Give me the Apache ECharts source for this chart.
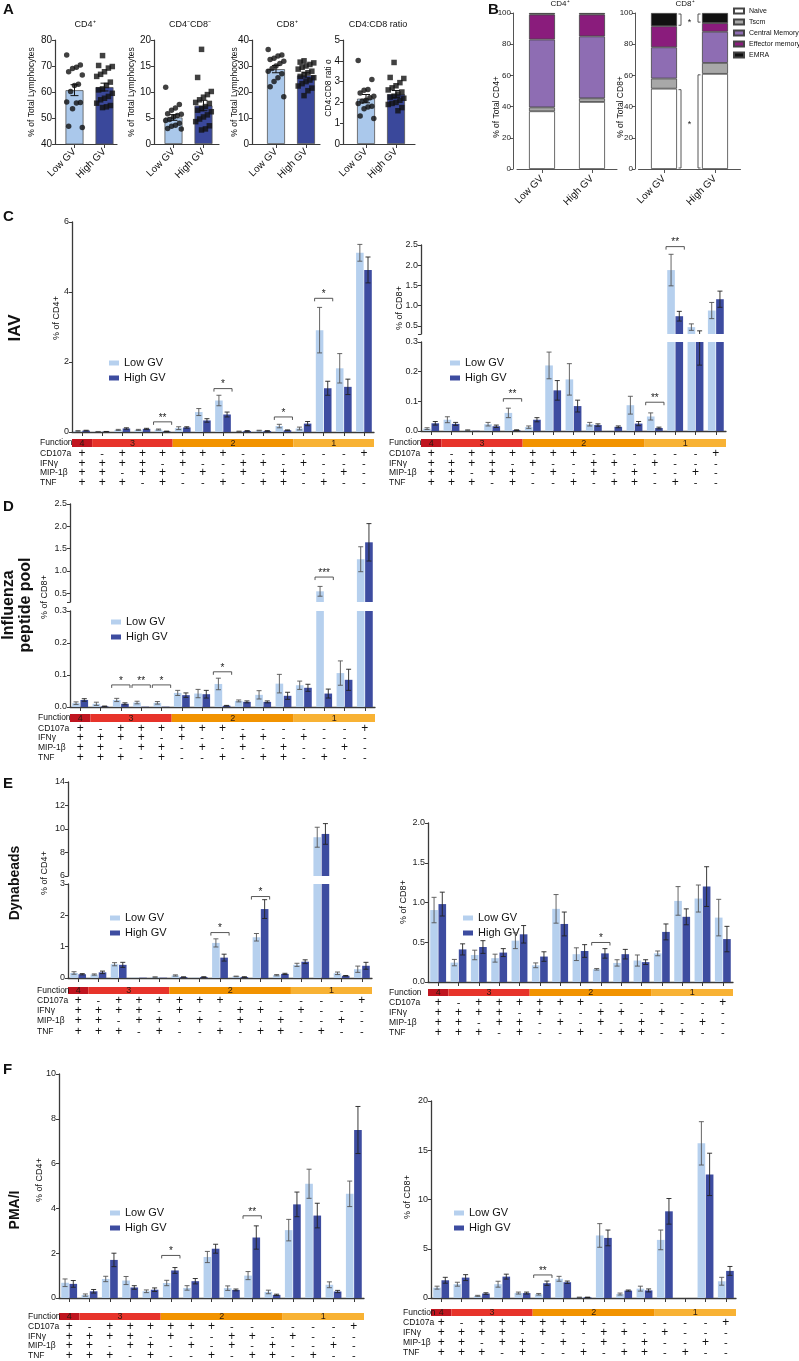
<!DOCTYPE html>
<html><head><meta charset="utf-8">
<script src="https://cdn.jsdelivr.net/npm/echarts@6/dist/echarts.min.js"></script>
<style>html,body{margin:0;padding:0;background:#fff}#c{width:799px;height:1361px}</style>
</head><body><div id="c"></div><script>
// ---------- shared categories ----------
const aGroups = ['Low GV','High GV'];
const cats = ['1','2','3','4','5','6','7','8','9','10','11','12','13','14','15'];
const CD107a = ['+','-','+','+','+','+','+','+','-','-','-','-','-','-','+'];
const IFNg   = ['+','+','+','+','-','+','-','-','+','+','-','+','-','-','-'];
const MIP1b  = ['+','+','-','+','+','-','+','-','+','-','+','-','-','+','-'];
const TNF    = ['+','+','+','-','+','-','-','+','-','+','+','-','+','-','-'];
const rowNames = ['CD107a','IFNγ','MIP-1β','TNF'];
const funcGroups = [{n:'4',from:0,to:0},{n:'3',from:1,to:4},{n:'2',from:5,to:10},{n:'1',from:11,to:14}];

// ---------- Panel A ----------
const aCD4_bar = [60.7, 61.9], aCD4_sem = [2.1, 1.5];
const aCD4_lowPts  = [74.2,70.4,69.5,69.0,67.8,66.5,63.0,62.5,60.2,56.2,56.0,55.8,53.6,46.8,46.3];
const aCD4_highPts = [74.0,70.2,69.8,69.2,67.8,66.8,66.0,63.8,62.5,61.2,60.8,59.5,58.3,57.6,57.0,55.7,54.8,54.3,54.0];
const aDN_bar = [5.1, 7.4], aDN_sem = [0.55, 1.0];
const aDN_lowPts  = [10.9,7.6,6.9,6.5,5.8,5.7,5.5,5.2,4.7,4.5,4.0,3.6,3.4,3.0,2.9];
const aDN_highPts = [18.2,12.8,10.1,9.5,9.0,8.5,8.0,7.8,7.2,6.8,6.5,6.2,5.6,5.2,4.8,4.3,3.5,2.9,2.7];
const aCD8_bar = [28.8, 26.4], aCD8_sem = [1.4, 1.0];
const aCD8_lowPts  = [36.3,34.2,33.8,33.0,32.5,31.8,31.0,30.0,29.0,28.0,27.0,25.5,24.0,22.0,18.2];
const aCD8_highPts = [32.0,31.5,31.2,30.6,30.0,29.5,28.8,28.0,27.4,26.8,26.0,25.5,24.6,24.0,23.2,22.3,21.5,20.5,18.6];
const aRatio_bar = [2.18, 2.4], aRatio_sem = [0.2, 0.17];
const aRatio_lowPts  = [4.02,3.1,2.62,2.58,2.45,2.3,2.22,2.1,2.05,1.95,1.82,1.78,1.7,1.35,1.23];
const aRatio_highPts = [3.92,3.2,3.15,2.95,2.8,2.7,2.6,2.5,2.4,2.3,2.25,2.2,2.1,2.0,1.95,1.9,1.75,1.6];

// ---------- Panel B ----------
const bSubsets = ['Naive','Tscm','Central Memory','Effector memory','EMRA'];
const bCD4_low  = [37, 2.5, 43.5, 16, 1];
const bCD4_high = [43, 2.3, 39.7, 14, 1];
const bCD8_low  = [51.5, 6.5, 20, 13.5, 8.5];
const bCD8_high = [61, 7, 20, 5.5, 6.5];
const bCD8_sig = [{seg:4,label:'*'},{seg:0,label:'*'}];

// ---------- Panel C (IAV) ----------
const cCD4_low     = [0.03,0.01,0.06,0.06,0.07,0.11,0.57,0.90,0.02,0.04,0.17,0.10,2.91,1.82,5.12];
const cCD4_lowErr  = [0.01,0.005,0.015,0.015,0.015,0.04,0.10,0.15,0.005,0.01,0.05,0.04,0.65,0.42,0.24];
const cCD4_high    = [0.04,0.01,0.10,0.09,0.02,0.13,0.33,0.50,0.03,0.03,0.05,0.24,1.25,1.29,4.63];
const cCD4_highErr = [0.01,0.005,0.02,0.015,0.005,0.02,0.05,0.07,0.01,0.01,0.01,0.06,0.20,0.22,0.37];
const cCD4_sig = [[4,0.29,'**'],[7,1.24,'*'],[10,0.43,'*'],[12,3.82,'*']];
const cCD8_low     = [0.008,0.038,0.003,0.023,0.061,0.013,0.221,0.174,0.023,0.001,0.087,0.049,1.88,0.47,0.88];
const cCD8_lowErr  = [0.003,0.01,0.001,0.006,0.016,0.004,0.045,0.053,0.006,0,0.03,0.012,0.39,0.08,0.2];
const cCD8_high    = [0.026,0.024,0.001,0.016,0.003,0.038,0.137,0.084,0.02,0.014,0.025,0.01,0.74,0.30,1.16];
const cCD8_highErr = [0.006,0.005,0,0.004,0.001,0.007,0.033,0.02,0.004,0.003,0.007,0.003,0.12,0.078,0.2];
const cCD8_sig = [[4,0.109,'**'],[11,0.097,'**'],[12,2.46,'**']];

// ---------- Panel D (Influenza peptide pool) ----------
const dCD8_low     = [0.012,0.01,0.022,0.014,0.013,0.044,0.042,0.072,0.019,0.038,0.073,0.068,0.54,0.106,1.26];
const dCD8_lowErr  = [0.004,0.005,0.005,0.004,0.004,0.008,0.013,0.018,0.003,0.013,0.029,0.013,0.11,0.038,0.28];
const dCD8_high    = [0.022,0.002,0.01,0.001,0.001,0.037,0.04,0.004,0.016,0.016,0.035,0.06,0.042,0.085,1.64];
const dCD8_highErr = [0.004,0.001,0.003,0,0,0.007,0.012,0.001,0.003,0.003,0.011,0.011,0.014,0.033,0.42];
const dCD8_sig = [[2,0.069,'*'],[3,0.069,'**'],[4,0.069,'*'],[7,0.11,'*'],[12,0.86,'***']];

// ---------- Panel E (Dynabeads) ----------
const eCD4_low     = [0.16,0.11,0.44,0.01,0.03,0.08,0.01,1.12,0.05,1.30,0.09,0.42,9.3,0.15,0.28];
const eCD4_lowErr  = [0.04,0.02,0.05,0,0.005,0.02,0,0.13,0.01,0.12,0.02,0.05,0.85,0.04,0.1];
const eCD4_high    = [0.12,0.18,0.42,0.01,0.01,0.03,0.03,0.65,0.03,2.2,0.13,0.52,9.58,0.07,0.39];
const eCD4_highErr = [0.02,0.04,0.08,0,0,0.005,0.01,0.11,0.01,0.3,0.02,0.06,0.88,0.01,0.11];
const eCD4_sig = [[7,1.45,'*'],[9,2.6,'*']];
const eCD8_low     = [0.905,0.244,0.34,0.30,0.52,0.21,0.92,0.35,0.16,0.24,0.27,0.36,1.02,1.05,0.81];
const eCD8_lowErr  = [0.16,0.04,0.06,0.05,0.1,0.03,0.18,0.08,0.01,0.04,0.07,0.03,0.18,0.17,0.23];
const eCD8_high    = [0.98,0.41,0.44,0.37,0.60,0.32,0.73,0.39,0.36,0.35,0.25,0.63,0.82,1.2,0.54];
const eCD8_highErr = [0.15,0.07,0.08,0.05,0.11,0.06,0.15,0.08,0.06,0.06,0.03,0.1,0.1,0.25,0.16];
const eCD8_sig = [[8,0.497,'*']];

// ---------- Panel F (PMA/I) ----------
const fCD4_low     = [0.68,0.13,0.85,0.78,0.30,0.67,0.45,1.83,0.44,1.0,0.27,3.03,5.1,0.59,4.65];
const fCD4_lowErr  = [0.17,0.05,0.12,0.18,0.06,0.12,0.1,0.25,0.1,0.18,0.08,0.48,0.65,0.13,0.57];
const fCD4_high    = [0.63,0.3,1.7,0.47,0.37,1.23,0.75,2.2,0.36,2.7,0.14,4.18,3.68,0.29,7.5];
const fCD4_highErr = [0.15,0.08,0.3,0.08,0.08,0.13,0.12,0.2,0.04,0.52,0.03,0.55,0.55,0.05,1.05];
const fCD4_sig = [[5,1.9,'*'],[9,3.67,'**']];
const fCD8_low     = [1.05,1.4,0.22,1.4,0.5,0.38,1.95,0.07,6.35,0.4,0.95,5.9,0,15.7,1.7];
const fCD8_lowErr  = [0.15,0.2,0.05,0.3,0.1,0.08,0.25,0.02,1.2,0.1,0.25,1.0,0,2.2,0.4];
const fCD8_high    = [1.8,2.07,0.45,2.17,0.5,1.5,1.6,0.07,6.1,0.75,0.77,8.8,0,12.55,2.75];
const fCD8_highErr = [0.3,0.3,0.08,0.25,0.1,0.22,0.12,0.02,0.8,0.06,0.15,1.3,0,2.15,0.45];
const fCD8_sig = [[5,2.34,'**']];

// ---------- styling ----------
const FONT = '"Liberation Sans", Arial, Helvetica, sans-serif';
const AX = '#3a3a3a';
const LOW = '#b6d0ee', HIGH = '#3d4ca0';
const A_LOW = '#aac8eb', A_HIGH = '#3a489b';
const FUNC_COLORS = {'4':'#c0151f','3':'#e7332a','2':'#f29300','1':'#f8b234'};
const B_COLORS = ['#ffffff','#a8a8a8','#8e6db3','#8a1c7c','#111111'];
const CG = 0.22, BG = 0.08;

const option = {animation:false, textStyle:{fontFamily:FONT}, grid:[], xAxis:[], yAxis:[], series:[], legend:[], graphic:[]};
function txt(text, x, y, o) {
  o = o || {};
  option.graphic.push({type:'text', x:x, y:y, rotation:o.rot||0, silent:true, z:10,
    style:{text:text, fontSize:o.size||9, fontFamily:FONT, fontWeight:o.bold?'bold':'normal', fill:o.color||'#111',
      align:o.align||'left', verticalAlign:o.va||'middle', lineHeight:o.lh||undefined}});
}
const fmt = dec => (v => dec ? Number(v).toFixed(dec) : String(v));

// ---------- Panel A builder ----------
function jitter(i){ return (((i*7)%9) - 4) * 0.065; }
function aPanel(p){
  const gi = option.grid.length;
  option.grid.push({left:p.left, top:40, width:p.width, height:104});
  option.xAxis.push({type:'value', gridIndex:gi, min:p.xmin, max:p.xmax,
    axisLine:{onZero:false, lineStyle:{color:AX, width:1.2}},
    axisTick:{show:true, customValues:[0,1], length:4, lineStyle:{color:AX}},
    axisLabel:{customValues:[0,1], formatter:v=>aGroups[Math.round(v)], rotate:45, fontSize:10, color:'#111', margin:6, fontFamily:FONT},
    splitLine:{show:false}});
  option.yAxis.push({type:'value', gridIndex:gi, min:p.ymin, max:p.ymax, interval:p.interval,
    axisLine:{show:true, onZero:false, lineStyle:{color:AX, width:1.2}},
    axisTick:{show:true, length:3, lineStyle:{color:AX}},
    axisLabel:{fontSize:10, color:'#111', margin:3, fontFamily:FONT}, splitLine:{show:false}});
  option.series.push({type:'bar', name:'A'+gi, xAxisIndex:gi, yAxisIndex:gi, barWidth:18, silent:true,
    data:[{value:[0,p.bar[0]], itemStyle:{color:A_LOW}}, {value:[1,p.bar[1]], itemStyle:{color:A_HIGH}}],
    itemStyle:{borderColor:'#555', borderWidth:0.8}});
  option.series.push({type:'custom', xAxisIndex:gi, yAxisIndex:gi, silent:true, z:4,
    data:[[0,p.bar[0],p.sem[0]],[1,p.bar[1],p.sem[1]]],
    renderItem:function(params, api){
      const c = api.coord([api.value(0), api.value(1)]);
      const t = api.coord([api.value(0), api.value(1)+api.value(2)]);
      const b = api.coord([api.value(0), api.value(1)-api.value(2)]);
      const st = {stroke:'#111', lineWidth:1};
      return {type:'group', children:[
        {type:'line', shape:{x1:c[0],y1:t[1],x2:c[0],y2:b[1]}, style:st},
        {type:'line', shape:{x1:c[0]-4,y1:t[1],x2:c[0]+4,y2:t[1]}, style:st},
        {type:'line', shape:{x1:c[0]-4,y1:b[1],x2:c[0]+4,y2:b[1]}, style:st}]};
    }});
  option.series.push({type:'scatter', xAxisIndex:gi, yAxisIndex:gi, silent:true, z:5, symbol:'circle', symbolSize:5.5,
    itemStyle:{color:'#111'}, data:p.lowPts.map((v,i)=>[jitter(i), v])});
  option.series.push({type:'scatter', xAxisIndex:gi, yAxisIndex:gi, silent:true, z:5, symbol:'rect', symbolSize:5.5,
    itemStyle:{color:'#111'}, data:p.highPts.map((v,i)=>[1+jitter(i+3), v])});
  txt(p.title, p.titleX, 25, {align:'center', size:9});
  txt(p.yName, p.yNameX, p.yNameY||92, {rot:Math.PI/2, align:'center', size:8.5});
}

// ---------- Panel B builder ----------
function bPanel(p){
  const gi = option.grid.length;
  option.grid.push({left:p.left, top:13, width:p.width, height:156});
  option.xAxis.push({type:'category', gridIndex:gi, data:aGroups, boundaryGap:true,
    axisLine:{onZero:false, lineStyle:{color:'#555', width:1}},
    axisTick:{show:true, alignWithLabel:true, length:4, lineStyle:{color:'#555'}},
    axisLabel:{rotate:45, fontSize:10, color:'#111', margin:8, fontFamily:FONT},
    splitLine:{show:false}});
  option.yAxis.push({type:'value', gridIndex:gi, min:0, max:100, interval:20, offset:p.offset,
    axisLine:{show:true, onZero:false, lineStyle:{color:'#555', width:1}},
    axisTick:{show:true, length:3, lineStyle:{color:'#555'}},
    axisLabel:{fontSize:8, color:'#222', margin:2, fontFamily:FONT}, splitLine:{show:false}});
  bSubsets.forEach((name,k)=>option.series.push({type:'bar', name:name, stack:'s'+gi, xAxisIndex:gi, yAxisIndex:gi,
    barWidth:26, silent:true, data:[p.low[k], p.high[k]],
    itemStyle:{color:B_COLORS[k], borderColor:'#444', borderWidth:0.8}}));
  if (p.sig) {
    const range = (arr,k)=>{let s=0; for(let j=0;j<k;j++) s+=arr[j]; return [s, s+arr[k]];};
    option.series.push({type:'custom', xAxisIndex:gi, yAxisIndex:gi, clip:false, silent:true, z:6,
      data:p.sig.map(s=>{const lo=range(p.low,s.seg), hi=range(p.high,s.seg); return [0, lo[0], lo[1], hi[0], hi[1]];}),
      renderItem:function(params, api){
        const x0 = api.coord([0,0])[0], x1 = api.coord([1,0])[0];
        const l0 = api.coord([0, api.value(1)])[1]-1, l1 = api.coord([0, api.value(2)])[1]+1;
        const h0 = api.coord([0, api.value(3)])[1]-1, h1 = api.coord([0, api.value(4)])[1]+1;
        const xl = x0+13+4, xr = x1-13-4;
        const st = {stroke:'#444', fill:null, lineWidth:0.9};
        return {type:'group', children:[
          {type:'polyline', shape:{points:[[xl-2.5,l1],[xl,l1],[xl,l0],[xl-2.5,l0]]}, style:st},
          {type:'polyline', shape:{points:[[xr+2.5,h1],[xr,h1],[xr,h0],[xr+2.5,h0]]}, style:st},
          {type:'text', x:(xl+xr)/2, y:(Math.max(l0,h0)+Math.min(l1,h1))/2+3, style:{text:p.sig[params.dataIndex].label, align:'center', verticalAlign:'middle', fontSize:9, fontFamily:FONT, fill:'#222'}}]};
      }});
  }
  txt(p.title, p.titleX, 4, {align:'center', size:8});
  txt(p.yName, p.yNameX, 107, {rot:Math.PI/2, align:'center', size:8.5});
}

// ---------- C-F builder ----------
function errRender(params, api){
  const e = api.value(2); if (!e) return null;
  const cat = api.value(0), v = api.value(1), slot = api.value(3);
  const band = api.size([1,0])[0];
  const w = band*(1-CG)/(2+BG);
  const off = (w + BG*w)/2 * (slot ? 1 : -1);
  const t = api.coord([cat, v+e]), b = api.coord([cat, Math.max(v-e,0)]);
  const x = t[0] + off, cap = 2.5;
  const st = {stroke:slot ? '#222' : '#555', lineWidth:0.9};
  return {type:'group', children:[
    {type:'line', shape:{x1:x,y1:t[1],x2:x,y2:b[1]}, style:st},
    {type:'line', shape:{x1:x-cap,y1:t[1],x2:x+cap,y2:t[1]}, style:st},
    {type:'line', shape:{x1:x-cap,y1:b[1],x2:x+cap,y2:b[1]}, style:st}]};
}
function barPanel(p){
  const n = p.grids.length;
  p.grids.forEach((g, k)=>{
    const bottom = k === n-1;
    const gi = option.grid.length;
    option.grid.push({left:p.left, top:g.top, width:p.width, height:g.height});
    option.xAxis.push({type:'category', gridIndex:gi, data:cats, boundaryGap:true,
      axisLine:{show:bottom, onZero:false, lineStyle:{color:AX, width:1.3}},
      axisTick:{show:bottom, alignWithLabel:true, length:4, lineStyle:{color:AX, width:1}},
      axisLabel:{show:false}, splitLine:{show:false}});
    option.yAxis.push({type:'value', gridIndex:gi, min:g.min, max:g.max,
      axisLine:{show:true, onZero:false, lineStyle:{color:AX, width:1.3}},
      axisTick:{show:true, length:3, customValues:g.ticks, lineStyle:{color:AX}},
      axisLabel:{fontSize:9, color:'#222', margin:3, customValues:g.labels||g.ticks, formatter:fmt(g.dec), fontFamily:FONT},
      splitLine:{show:false}});
    option.series.push({type:'bar', name:'Low GV', xAxisIndex:gi, yAxisIndex:gi, data:p.low, barCategoryGap:(CG*100)+'%', barGap:(BG*100)+'%', itemStyle:{color:LOW}, silent:true});
    option.series.push({type:'bar', name:'High GV', xAxisIndex:gi, yAxisIndex:gi, data:p.high, barCategoryGap:(CG*100)+'%', barGap:(BG*100)+'%', itemStyle:{color:HIGH}, silent:true});
    option.series.push({type:'custom', xAxisIndex:gi, yAxisIndex:gi, clip:true, silent:true, z:4,
      data:p.low.map((v,i)=>[i,v,p.lowErr[i],0]).concat(p.high.map((v,i)=>[i,v,p.highErr[i],1])),
      renderItem:errRender});
    const sigs = p.sig.filter(s=>s[1]>=g.min && s[1]<=g.max);
    if (sigs.length) option.series.push({type:'custom', xAxisIndex:gi, yAxisIndex:gi, clip:false, silent:true, z:5,
      data:sigs.map(s=>[s[0], s[1]]),
      renderItem:function(params, api){
        const s = sigs[params.dataIndex];
        const c = api.coord([api.value(0), api.value(1)]);
        const band = api.size([1,0])[0];
        const x1 = c[0]-band*0.45, x2 = c[0]+band*0.45;
        return {type:'group', children:[
          {type:'polyline', shape:{points:[[x1,c[1]+3],[x1,c[1]],[x2,c[1]],[x2,c[1]+3]]}, style:{stroke:'#444', fill:null, lineWidth:0.9}},
          {type:'text', x:(x1+x2)/2, y:c[1]+1, style:{text:s[2], align:'center', verticalAlign:'bottom', fontSize:10, fontFamily:FONT, fill:'#222'}}]};
      }});
    if (bottom) {
      const st = p.strip;
      option.series.push({type:'custom', xAxisIndex:gi, yAxisIndex:gi, clip:false, silent:true, z:6,
        data:funcGroups.map(f=>[f.from, 0, f.to]),
        renderItem:function(params, api){
          const f = funcGroups[params.dataIndex];
          const band = api.size([1,0])[0];
          const xa = api.coord([api.value(0),0])[0]-band/2, xb = api.coord([api.value(2),0])[0]+band/2;
          return {type:'group', children:[
            {type:'rect', shape:{x:xa, y:st.top, width:xb-xa, height:st.h}, style:{fill:FUNC_COLORS[f.n]}},
            {type:'text', x:(xa+xb)/2, y:st.top+st.h/2+0.5, style:{text:f.n, align:'center', verticalAlign:'middle', fontSize:9, fontFamily:FONT, fill:'#2a1a10'}}]};
        }});
      option.series.push({type:'custom', xAxisIndex:gi, yAxisIndex:gi, clip:false, silent:true, z:6,
        data:cats.map((c,i)=>[i,0]),
        renderItem:function(params, api){
          const i = api.value(0); const x = api.coord([i,0])[0];
          const syms = [CD107a[i], IFNg[i], MIP1b[i], TNF[i]];
          return {type:'group', children:syms.map((s,r)=>({type:'text', x:x, y:p.rows[r],
            style:{text:s, align:'center', verticalAlign:'middle', fontSize:s==='+'?12:11, fontFamily:FONT, fill:'#111'}}))};
        }});
      txt('Function', p.rowX, st.top+st.h/2, {size:8.5});
      rowNames.forEach((nm,r)=>txt(nm, p.rowX, p.rows[r], {size:8.5}));
    }
  });
  option.legend.push({left:p.legend.left, top:p.legend.top, orient:'vertical', itemWidth:10, itemHeight:5, itemGap:3, icon:'rect',
    selectedMode:false, data:['Low GV','High GV'], textStyle:{fontSize:11, color:'#111', fontFamily:FONT, lineHeight:12}});
  txt(p.yName.text, p.yName.x, p.yName.y, {rot:Math.PI/2, align:'center', size:9});
}

// ---------- build ----------
aPanel({left:55, width:62, xmin:-0.65, xmax:1.417, ymin:40, ymax:80, interval:10, bar:aCD4_bar, sem:aCD4_sem, lowPts:aCD4_lowPts, highPts:aCD4_highPts, title:'CD4⁺', titleX:85, yName:'% of Total Lymphocytes', yNameX:32});
aPanel({left:154, width:65, xmin:-0.65, xmax:1.517, ymin:0, ymax:20, interval:5, bar:aDN_bar, sem:aDN_sem, lowPts:aDN_lowPts, highPts:aDN_highPts, title:'CD4⁻CD8⁻', titleX:190, yName:'% of Total Lymphocytes', yNameX:132});
aPanel({left:252, width:68, xmin:-0.8, xmax:1.467, ymin:0, ymax:40, interval:10, bar:aCD8_bar, sem:aCD8_sem, lowPts:aCD8_lowPts, highPts:aCD8_highPts, title:'CD8⁺', titleX:287, yName:'% of Total Lymphocytes', yNameX:235});
aPanel({left:343, width:72, xmin:-0.767, xmax:1.633, ymin:0, ymax:5, interval:1, bar:aRatio_bar, sem:aRatio_sem, lowPts:aRatio_lowPts, highPts:aRatio_highPts, title:'CD4:CD8 ratio', titleX:378, yName:'CD4:CD8 rati o', yNameX:329, yNameY:88});

bPanel({left:517, width:100, offset:4, low:bCD4_low, high:bCD4_high, title:'CD4⁺', titleX:560, yName:'% of Total CD4+', yNameX:497});
bPanel({left:638.5, width:102, offset:3.5, low:bCD8_low, high:bCD8_high, sig:bCD8_sig, title:'CD8⁺', titleX:685, yName:'% of Total CD8+', yNameX:621});
option.legend.push({left:733, top:6, padding:0, orient:'vertical', itemWidth:10, itemHeight:5, itemGap:1, selectedMode:false, icon:'rect',
  data:bSubsets, textStyle:{fontSize:7, color:'#111', fontFamily:FONT, lineHeight:10}});

barPanel({left:72, width:302, grids:[{top:222, height:210, min:0, max:6, ticks:[0,2,4,6]}],
  low:cCD4_low, lowErr:cCD4_lowErr, high:cCD4_high, highErr:cCD4_highErr, sig:cCD4_sig,
  strip:{top:439, h:8}, rows:[454,464,473,483], rowX:40, legend:{left:104, top:352}, yName:{text:'% of CD4+', x:57, y:318}});
barPanel({left:421, width:305, grids:[{top:245, height:89, min:0.3, max:2.5, ticks:[0.3,0.5,1,1.5,2,2.5], labels:[0.5,1,1.5,2,2.5], dec:1},
                                     {top:342, height:89, min:0, max:0.3, ticks:[0,0.1,0.2,0.3], dec:1}],
  low:cCD8_low, lowErr:cCD8_lowErr, high:cCD8_high, highErr:cCD8_highErr, sig:cCD8_sig,
  strip:{top:439, h:8}, rows:[454,464,473,483], rowX:389, legend:{left:445, top:352}, yName:{text:'% of CD8+', x:400, y:308}});
barPanel({left:70, width:305, grids:[{top:504, height:98, min:0.3, max:2.5, ticks:[0.3,0.5,1,1.5,2,2.5], labels:[0.5,1,1.5,2,2.5], dec:1},
                                    {top:611, height:96, min:0, max:0.3, ticks:[0,0.1,0.2,0.3], dec:1}],
  low:dCD8_low, lowErr:dCD8_lowErr, high:dCD8_high, highErr:dCD8_highErr, sig:dCD8_sig,
  strip:{top:714, h:8}, rows:[729,738,748,758], rowX:38, legend:{left:106, top:611}, yName:{text:'% of CD8+', x:45, y:597}});
barPanel({left:68, width:304, grids:[{top:782, height:94, min:6, max:14, ticks:[6,8,10,12,14]},
                                    {top:884, height:94, min:0, max:3, ticks:[0,1,2,3]}],
  low:eCD4_low, lowErr:eCD4_lowErr, high:eCD4_high, highErr:eCD4_highErr, sig:eCD4_sig,
  strip:{top:987, h:7}, rows:[1001,1011,1021,1032], rowX:37, legend:{left:105, top:907}, yName:{text:'% of CD4+', x:45, y:873}});
barPanel({left:428, width:305, grids:[{top:823, height:159, min:0, max:2, ticks:[0,0.5,1,1.5,2], dec:1}],
  low:eCD8_low, lowErr:eCD8_lowErr, high:eCD8_high, highErr:eCD8_highErr, sig:eCD8_sig,
  strip:{top:989, h:7}, rows:[1003,1013,1023,1033], rowX:389, legend:{left:458, top:907}, yName:{text:'% of CD8+', x:404, y:902}});
barPanel({left:59, width:305, grids:[{top:1074, height:224, min:0, max:10, ticks:[0,2,4,6,8,10]}],
  low:fCD4_low, lowErr:fCD4_lowErr, high:fCD4_high, highErr:fCD4_highErr, sig:fCD4_sig,
  strip:{top:1313, h:7}, rows:[1327,1337,1346,1356], rowX:28, legend:{left:105, top:1202}, yName:{text:'% of CD4+', x:40, y:1180}});
barPanel({left:431, width:305, grids:[{top:1101, height:197, min:0, max:20, ticks:[0,5,10,15,20]}],
  low:fCD8_low, lowErr:fCD8_lowErr, high:fCD8_high, highErr:fCD8_highErr, sig:fCD8_sig,
  strip:{top:1309, h:7}, rows:[1323,1333,1343,1353], rowX:403, legend:{left:449, top:1202}, yName:{text:'% of CD8+', x:408, y:1197}});

// panel letters and row titles
txt('A', 3, 10, {size:15, bold:true});
txt('B', 488, 10, {size:15, bold:true});
txt('C', 3, 217, {size:15, bold:true});
txt('D', 3, 507, {size:15, bold:true});
txt('E', 3, 784, {size:15, bold:true});
txt('F', 3, 1070, {size:15, bold:true});
txt('IAV', 15, 328, {rot:Math.PI/2, align:'center', size:17, bold:true});
txt('Influenza\npeptide pool', 17, 605, {rot:Math.PI/2, align:'center', size:16, bold:true, lh:17});
txt('Dynabeads', 15, 883, {rot:Math.PI/2, align:'center', size:14, bold:true});
txt('PMA/I', 15, 1210, {rot:Math.PI/2, align:'center', size:14, bold:true});

const chart = echarts.init(document.getElementById('c'), null, {renderer:'canvas', width:799, height:1361});
chart.setOption(option);
</script></body></html>
